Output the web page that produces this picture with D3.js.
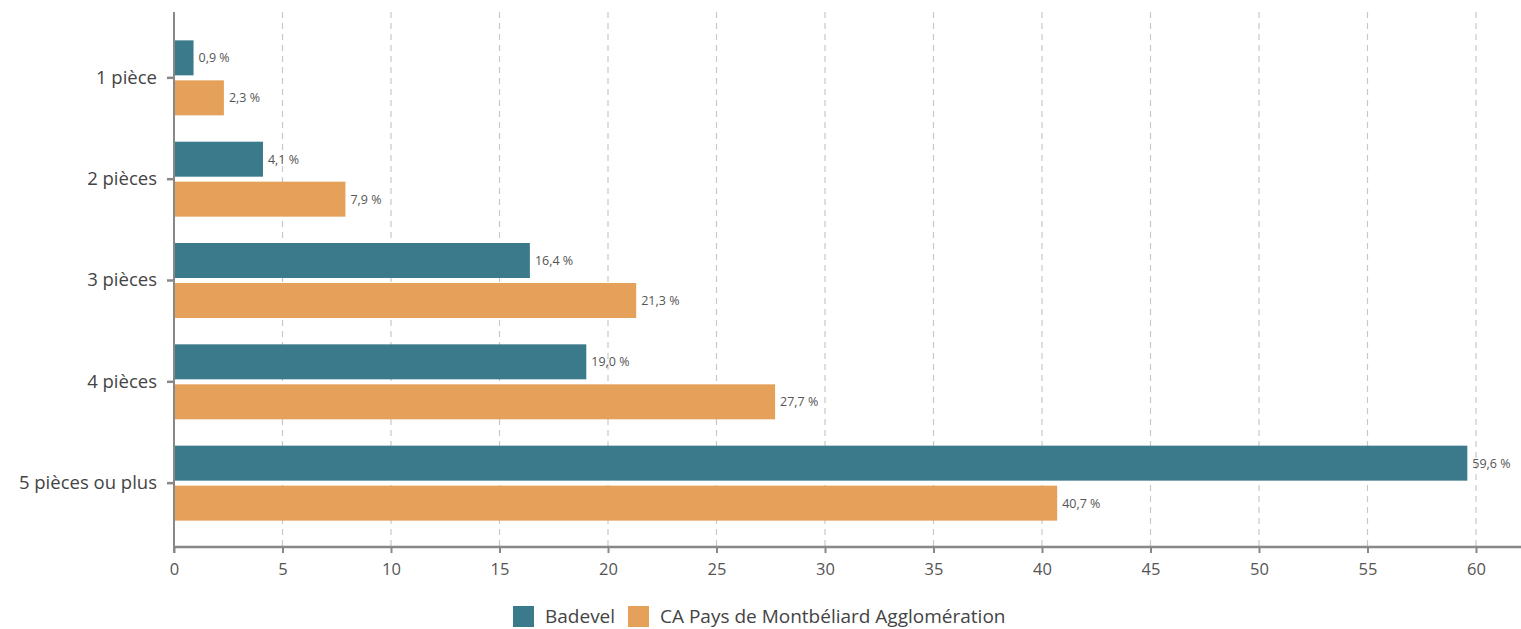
<!DOCTYPE html>
<html>
<head>
<meta charset="utf-8">
<script src="https://cdn.jsdelivr.net/npm/d3@7"></script>
<style>
  body { margin: 0; background: #fff; }
  text { font-family: "Open Sans", sans-serif; }
</style>
</head>
<body>
<script>
'use strict';

const categories = ["1 pièce", "2 pièces", "3 pièces", "4 pièces", "5 pièces ou plus"];
const seriesNames = ["Badevel", "CA Pays de Montbéliard Agglomération"];
const badevel = [0.9, 4.1, 16.4, 19.0, 59.6];
const caPma = [2.3, 7.9, 21.3, 27.7, 40.7];
const xTicks = [0, 5, 10, 15, 20, 25, 30, 35, 40, 45, 50, 55, 60];
const colors = ["#3a7a8b", "#e5a05a"];

let width = 1521,
    height = 629,
    plotLeft = 174,
    plotTop = 13,
    plotBottom = 548,
    svg = d3.select("body").append("svg")
            .attr("width", width)
            .attr("height", height);

let x = d3.scaleLinear().domain([0, 60]).range([plotLeft, 1476]);
let y = d3.scaleBand().domain(categories).range([plotTop, plotBottom])
          .paddingInner(0.26).paddingOuter(0.27);
let ySub = d3.scaleBand().domain(seriesNames).range([0, y.bandwidth()])
          .paddingInner(0.125);

// dashed grid
svg.append("g")
  .selectAll("line")
  .data(xTicks.filter(d => d > 0))
  .join("line")
    .attr("x1", d => x(d)).attr("x2", d => x(d))
    .attr("y1", plotTop - 1).attr("y2", plotBottom)
    .style("stroke", "#c8c8c8")
    .style("stroke-width", 1.2)
    .style("stroke-dasharray", "6,5");

// bars
let rows = categories.map((c, i) => ({cat: c, vals: [badevel[i], caPma[i]]}));
let grp = svg.append("g").selectAll("g")
  .data(rows)
  .join("g")
    .attr("transform", d => `translate(0,${y(d.cat)})`);

grp.selectAll("rect")
  .data(d => d.vals.map((v, j) => ({v, s: seriesNames[j], j})))
  .join("rect")
    .attr("x", x(0))
    .attr("y", d => ySub(d.s))
    .attr("width", d => x(d.v) - x(0))
    .attr("height", ySub.bandwidth())
    .style("fill", d => colors[d.j]);

grp.selectAll("text")
  .data(d => d.vals.map((v, j) => ({v, s: seriesNames[j]})))
  .join("text")
    .attr("x", d => x(d.v) + 5)
    .attr("y", d => ySub(d.s) + ySub.bandwidth() / 2)
    .attr("dy", "0.35em")
    .style("font-size", "12.5px")
    .style("fill", "#555")
    .text(d => d3.format(".1f")(d.v).replace(".", ",") + " %");

// x axis
let xAxis = svg.append("g")
  .attr("transform", `translate(0,${plotBottom - 1})`)
  .call(d3.axisBottom(x).tickValues(xTicks).tickSize(6).tickPadding(10));
xAxis.select(".domain").remove();
xAxis.selectAll(".tick line").style("stroke", "#888").style("stroke-width", 2);
xAxis.selectAll(".tick text")
  .style("font-size", "16.5px")
  .style("fill", "#555")
  .style("font-family", "'Open Sans', sans-serif");
svg.append("line")
  .attr("x1", plotLeft).attr("x2", width)
  .attr("y1", plotBottom - 1).attr("y2", plotBottom - 1)
  .style("stroke", "#888").style("stroke-width", 2.5);

// y axis
let yAxis = svg.append("g")
  .attr("transform", `translate(${plotLeft},0)`)
  .call(d3.axisLeft(y).tickSize(7).tickPadding(10));
yAxis.select(".domain").remove();
yAxis.selectAll(".tick line").style("stroke", "#888").style("stroke-width", 2.5);
yAxis.selectAll(".tick text")
  .style("font-size", "18.5px")
  .style("fill", "#444")
  .style("font-family", "'Open Sans', sans-serif");
svg.append("line")
  .attr("x1", plotLeft).attr("x2", plotLeft)
  .attr("y1", plotTop - 1).attr("y2", plotBottom + 5)
  .style("stroke", "#888").style("stroke-width", 2);

// legend
let legendX = [513, 628];
let leg = svg.append("g").selectAll("g")
  .data(seriesNames)
  .join("g")
    .attr("transform", (d, i) => `translate(${legendX[i]},606)`);
leg.append("rect")
  .attr("width", 21).attr("height", 21)
  .style("fill", (d, i) => colors[i]);
leg.append("text")
  .attr("x", 32).attr("y", 10)
  .attr("dy", "0.35em")
  .style("font-size", "19px")
  .style("fill", "#444")
  .text(d => d);
</script>
</body>
</html>
